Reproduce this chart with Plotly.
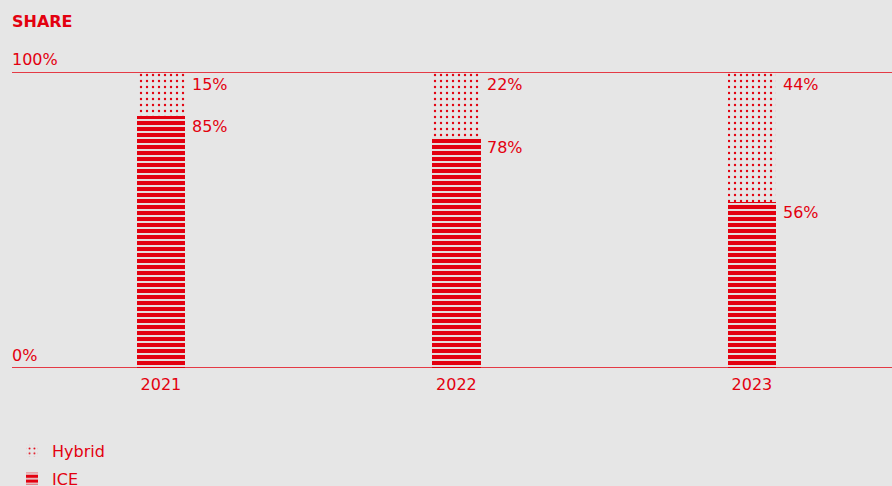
import plotly.graph_objects as go

years = ["2021", "2022", "2023"]
ice = [85, 78, 56]
hybrid = [15, 22, 44]
ice_labels = ["85%", "78%", "56%"]
hybrid_labels = ["15%", "22%", "44%"]

RED = "#e3000f"
BG = "#e6e6e6"
FONT = "DejaVu Sans"

fig = go.Figure()
fig.add_trace(go.Bar(
    x=years, y=ice, name="ICE", width=0.163, legendgroup="ice", legendrank=2,
    marker=dict(color=BG, line=dict(width=0),
                pattern=dict(shape="-", fgcolor=RED, bgcolor=BG, size=6, solidity=0.68, fillmode="replace")),
))
fig.add_trace(go.Bar(
    x=years, y=hybrid, name="Hybrid", width=0.163, legendgroup="hybrid", legendrank=1,
    marker=dict(color=BG, line=dict(width=0),
                pattern=dict(shape=".", fgcolor=RED, bgcolor=BG, size=6, solidity=0.12, fillmode="replace")),
))

annotations = []
for i, yr in enumerate(years):
    annotations.append(dict(x=i, y=ice[i], xref="x", yref="y", text=ice_labels[i], showarrow=False,
                            xanchor="left", yanchor="top", xshift=29, yshift=1,
                            font=dict(family=FONT, size=16, color=RED)))
    annotations.append(dict(x=i, y=ice[i] + hybrid[i], xref="x", yref="y", text=hybrid_labels[i], showarrow=False,
                            xanchor="left", yanchor="top", xshift=29, yshift=-1,
                            font=dict(family=FONT, size=16, color=RED)))
annotations.append(dict(x=0, y=100, xref="paper", yref="y", text="100%", showarrow=False,
                        xanchor="left", yanchor="bottom", xshift=-2, yshift=1,
                        font=dict(family=FONT, size=16, color=RED)))
annotations.append(dict(x=0, y=0, xref="paper", yref="y", text="0%", showarrow=False,
                        xanchor="left", yanchor="bottom", xshift=-2, yshift=1,
                        font=dict(family=FONT, size=16, color=RED)))

shapes = [
    dict(type="line", xref="paper", yref="y", x0=0, x1=1, y0=100, y1=100, line=dict(color=RED, width=1.3)),
    dict(type="line", xref="paper", yref="y", x0=0, x1=1, y0=0, y1=0, line=dict(color=RED, width=1.3)),
]

fig.update_layout(
    width=892, height=486,
    paper_bgcolor=BG, plot_bgcolor=BG,
    barmode="stack",
    margin=dict(l=12, r=0, t=72, b=118, autoexpand=False),
    font=dict(family=FONT, color=RED, size=16),
    title=dict(text="<b>SHARE</b>", x=0, xref="paper", xanchor="left", y=1 - 21 / 486, yanchor="middle",
               font=dict(family=FONT, size=16, color=RED)),
    xaxis=dict(type="category", range=[-0.504, 2.474], showgrid=False, zeroline=False, showline=False,
               automargin=False, ticks="", ticklabelstandoff=5, tickfont=dict(family=FONT, size=16, color=RED)),
    yaxis=dict(range=[0, 100], showgrid=False, zeroline=False, showline=False, showticklabels=False,
               automargin=False),
    legend=dict(x=0, y=-0.223, xanchor="left", yanchor="top", traceorder="grouped",
                font=dict(family=FONT, size=16, color=RED), bgcolor="rgba(0,0,0,0)",
                itemwidth=30, tracegroupgap=4),
    annotations=annotations,
    shapes=shapes,
    showlegend=True,
)

fig.write_html("out.html", config={"displayModeBar": False},
               post_script="document.body.style.margin='0';document.body.style.padding='0';")
